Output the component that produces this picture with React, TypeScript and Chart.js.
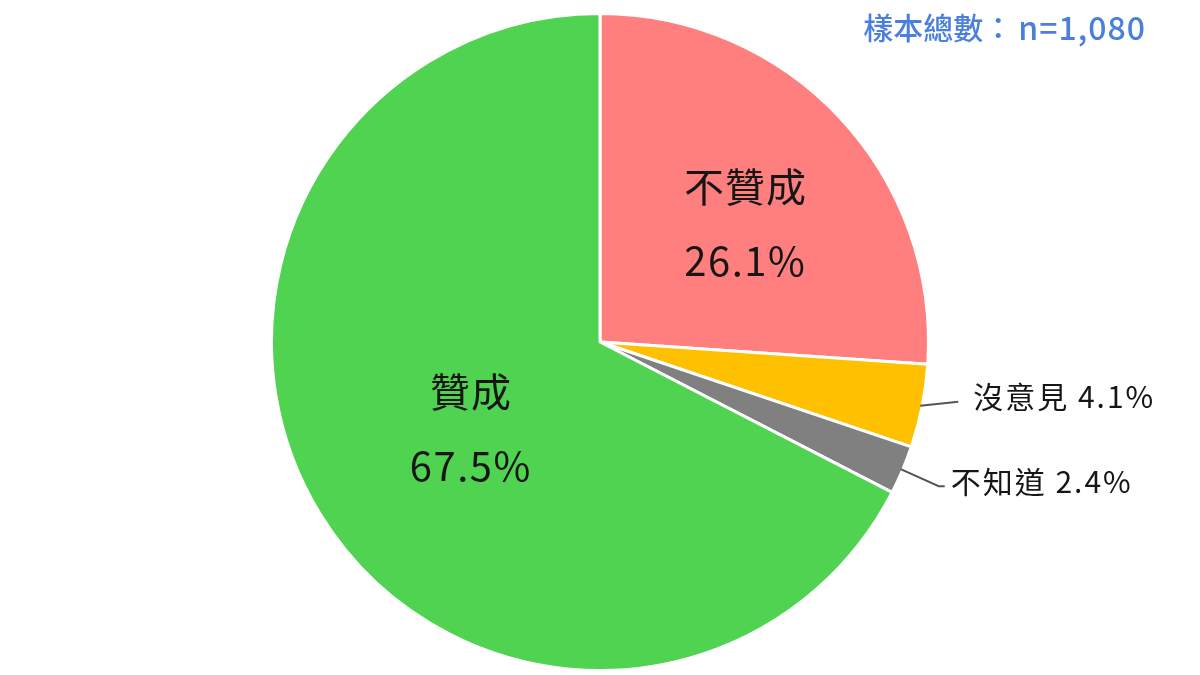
import { useEffect, useRef } from 'react'
import { Chart, registerables } from 'chart.js'

Chart.register(...registerables)

const categories = ['不贊成', '沒意見', '不知道', '贊成']
const values = [26.1, 4.1, 2.4, 67.5]
const colors = ['#FF7F7F', '#FFC000', '#808080', '#4FD350']
const noteLabel = '樣本總數：'
const noteValue = 'n=1,080'

const FONT = '"Noto Sans CJK TC", "Noto Sans", sans-serif'

// inside = label drawn inside the slice (dist = fraction of radius), else leader line out
const labelStyle = [
  { inside: true, dist: 0.57, angleShift: 4 },
  { inside: false, bend: 0, dx: 38, dy: -4, gap: 15 },
  { inside: false, bend: 38, dx: 44, dy: 17, gap: 6 },
  { inside: true, dist: 0.474, angleShift: -2.6 },
]

const labelPlugin = {
  id: 'sliceLabels',
  afterDatasetsDraw(chart) {
    const ctx = chart.ctx
    const meta = chart.getDatasetMeta(0)
    meta.data.forEach((arc, i) => {
      const { x, y, startAngle, endAngle, outerRadius } = arc.getProps(
        ['x', 'y', 'startAngle', 'endAngle', 'outerRadius'],
        true
      )
      const st = labelStyle[i]
      const mid = (startAngle + endAngle) / 2
      const pct = values[i].toFixed(1) + '%'
      ctx.save()
      ctx.fillStyle = '#161616'
      if (st.inside) {
        const a = mid + (st.angleShift * Math.PI) / 180
        const lx = x + Math.cos(a) * outerRadius * st.dist
        const ly = y + Math.sin(a) * outerRadius * st.dist
        ctx.textAlign = 'center'
        ctx.textBaseline = 'middle'
        ctx.font = `400 40px ${FONT}`
        ctx.letterSpacing = '1px'
        ctx.fillText(categories[i], lx, ly - 37)
        ctx.letterSpacing = '1.5px'
        ctx.fillText(pct, lx, ly + 37)
      } else {
        const ex = x + Math.cos(mid) * (outerRadius - 2)
        const ey = y + Math.sin(mid) * (outerRadius - 2)
        const ux = ex + st.dx
        const uy = ey + st.dy
        ctx.strokeStyle = '#555'
        ctx.lineWidth = 2
        ctx.beginPath()
        ctx.moveTo(ex, ey)
        if (st.bend) {
          ctx.lineTo(ex + st.bend, uy)
        }
        ctx.lineTo(ux, uy)
        ctx.stroke()
        ctx.font = `400 30px ${FONT}`
        ctx.letterSpacing = '2px'
        ctx.textAlign = 'left'
        ctx.textBaseline = 'middle'
        ctx.fillText(categories[i] + ' ' + pct, ux + st.gap, uy - 5)
      }
      ctx.restore()
    })

    ctx.save()
    ctx.fillStyle = '#4A7FE0'
    ctx.textAlign = 'right'
    ctx.textBaseline = 'middle'
    ctx.font = `500 32px ${FONT}`
    ctx.letterSpacing = '1px'
    ctx.fillText(noteValue, 1146, 28)
    const w = ctx.measureText(noteValue).width
    ctx.font = `500 30px ${FONT}`
    ctx.letterSpacing = '0px'
    ctx.fillText(noteLabel, 1146 - w - 5, 28)
    ctx.restore()
  },
}

export default function App() {
  const canvasRef = useRef(null)

  useEffect(() => {
    document.body.style.margin = '0'
    const chart = new Chart(canvasRef.current, {
      type: 'pie',
      data: {
        labels: categories,
        datasets: [
          {
            data: values,
            backgroundColor: colors,
            borderColor: '#FFFFFF',
            borderWidth: 3,
          },
        ],
      },
      options: {
        animation: false,
        responsive: false,
        layout: { padding: { top: 12, bottom: 3 } },
        plugins: {
          legend: { display: false },
          tooltip: { enabled: false },
        },
      },
      plugins: [labelPlugin],
    })
    return () => {
      chart.destroy()
    }
  }, [])

  return (
    <div style={{ width: 1200, height: 675, background: '#fff' }}>
      <canvas ref={canvasRef} width={1200} height={675} />
    </div>
  )
}
